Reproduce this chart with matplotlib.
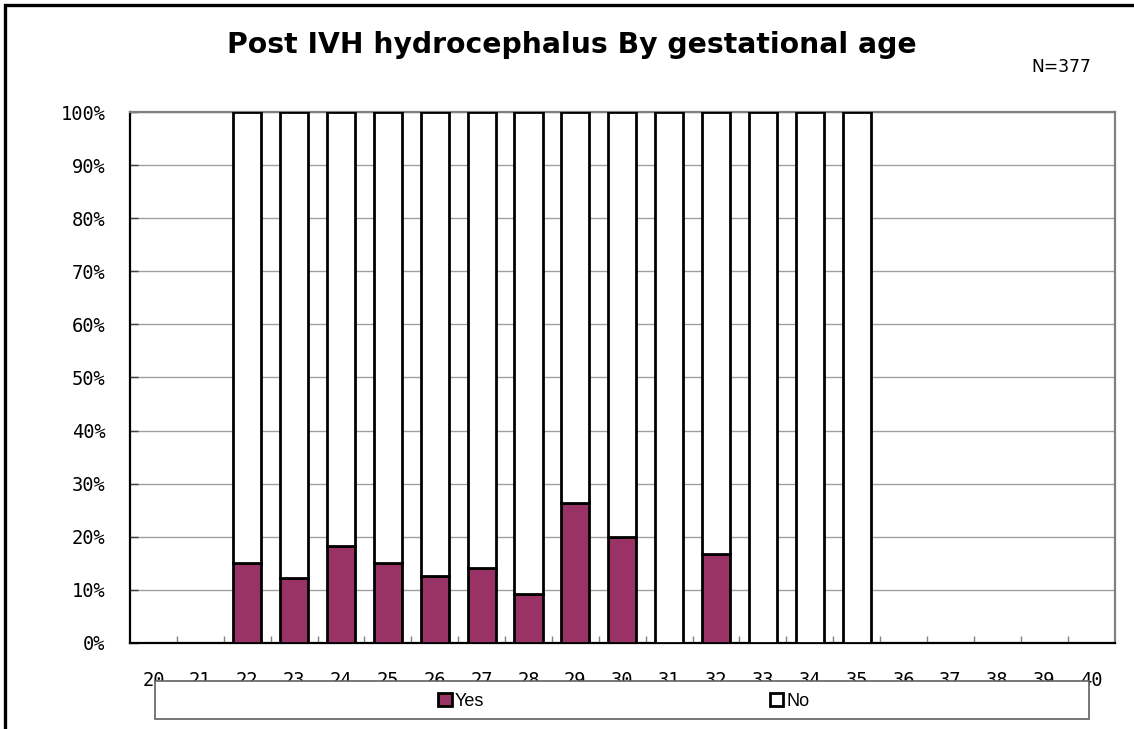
import numpy as np
import matplotlib
matplotlib.use("Agg")
import matplotlib.pyplot as plt
from matplotlib.patches import Rectangle, Patch
from matplotlib.ticker import PercentFormatter, FixedLocator

# gestational age axis and the weeks that have cases
ages = list(range(20, 41))
bar_ages = [22, 23, 24, 25, 26, 27, 28, 29, 30, 31, 32, 33, 34, 35]
yes_pct = np.array([15.0, 12.2, 18.2, 15.0, 12.5, 14.0, 9.1, 26.3, 20.0, 0.0, 16.7, 0.0, 0.0, 0.0])
no_pct = 100 - yes_pct

title = "Post IVH hydrocephalus By gestational age"
n_label = "N=377"
yes_color = "#993366"

W, H = 1134, 729
fig = plt.figure(figsize=(W / 100, H / 100), dpi=100)
ax = fig.add_axes([130 / W, 1 - 642.7 / H, (1114.5 - 130) / W, (642.7 - 112.3) / H])

ax.bar(bar_ages, yes_pct, width=0.6, color=yes_color, edgecolor="black", linewidth=2, label="Yes", zorder=3)
ax.bar(bar_ages, no_pct, bottom=yes_pct, width=0.6, color="white", edgecolor="black", linewidth=2, label="No", zorder=3)

ax.set_xlim(ages[0] - 0.5, ages[-1] + 0.5)
ax.set_ylim(0, 100)
ax.set_xticks(ages)
ax.set_xticklabels([str(a) for a in ages], family="DejaVu Sans Mono", fontsize=13.5)
ax.tick_params(axis="x", length=0, pad=20.5)
ax.xaxis.set_minor_locator(FixedLocator(np.arange(ages[0] + 0.5, ages[-1], 1.0)))
ax.tick_params(axis="x", which="minor", direction="in", length=5, color="#808080", width=1)

ax.set_yticks(np.arange(0, 101, 10))
ax.yaxis.set_major_formatter(PercentFormatter(decimals=0))
for lab in ax.get_yticklabels():
    lab.set_family("DejaVu Sans Mono")
    lab.set_fontsize(13.5)
ax.tick_params(axis="y", direction="in", length=6, color="#404040", width=1, pad=17.5)

ax.grid(axis="y", color="#a0a0a0", linewidth=1)
ax.set_axisbelow(True)

for side in ("left", "bottom"):
    ax.spines[side].set_color("black")
    ax.spines[side].set_linewidth(1.6)
for side in ("top", "right"):
    ax.spines[side].set_color("#808080")
    ax.spines[side].set_linewidth(1.6)

fig.text(572 / W, 1 - 45 / H, title, ha="center", va="center", fontsize=20.3, fontweight="bold",
         family="DejaVu Sans")
fig.text(1091 / W, 1 - 67.5 / H, n_label, ha="right", va="center", fontsize=12.3, family="DejaVu Sans")

# legend box below the axis, drawn over the lower part of the age labels
fig.add_artist(Rectangle((155 / W, 1 - 719 / H), (1089 - 155) / W, (719 - 681) / H,
                         transform=fig.transFigure, facecolor="white", edgecolor="#606060",
                         linewidth=1.2, zorder=2))
handles = [Patch(facecolor=yes_color, edgecolor="black", linewidth=2, label="Yes"),
           Patch(facecolor="white", edgecolor="black", linewidth=2, label="No")]
leg = fig.legend(handles=handles, loc="center", bbox_to_anchor=(624 / W, 1 - 701 / H), ncol=2, frameon=False,
                 prop={"family": "Liberation Sans", "size": 13}, handlelength=0.75, handleheight=0.75,
                 handletextpad=0.2, columnspacing=15.8)
leg.set_zorder(3)

# outer frame
fig.add_artist(Rectangle((5 / W, -0.1), 1.2, 1.1 - 5 / H, transform=fig.transFigure,
                         fill=False, edgecolor="black", linewidth=2.4))

fig.savefig("out.png", dpi=100)
